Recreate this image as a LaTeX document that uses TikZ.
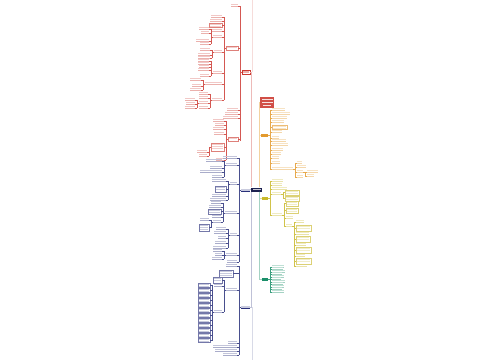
\documentclass[tikz,border=0pt]{standalone}
\definecolor{cR}{HTML}{CC3B33}
\definecolor{cB}{HTML}{29307A}
\definecolor{cO}{HTML}{E39A2D}
\definecolor{cY}{HTML}{C9B92A}
\definecolor{cG}{HTML}{1B8F6A}
\definecolor{cN}{HTML}{1C2150}
\tikzset{
 leafbar/.style={rectangle, inner sep=0pt, outer sep=0pt, minimum height=1.4pt, fill=#1!28, draw=none},
 trunk/.style={draw=#1!85, line width=.28pt},
 uline/.style={draw=#1!40, line width=.25pt},
 boxst/.style={rectangle, inner sep=0pt, outer sep=0pt, draw=#1!65, line width=.28pt, fill=white},
 mainlink/.style={draw=#1, line width=.7pt},
}
% left group: colour, trunk x, y top, y bottom, parent y, list x1/x2/y
\newcommand\Lgrp[6]{%
  \draw[trunk=#1] (#2,#3) -- (#2,#4);
  \draw[trunk=#1] (#2,#5) -- ({#2+2},#5);
  \foreach \a/\b/\c in {#6}{%
    \node[leafbar=#1, minimum width={(\b-\a)*1pt}] (n#1x\a y\c) at ({(\a+\b)/2},{\c-1.3}) {};
    \draw[uline=#1] (\a,\c) -- (\b,\c);
    \draw[trunk=#1] (#2,\c) -- (\b,\c);
  }}
\newcommand\Rgrp[6]{%
  \draw[trunk=#1] (#2,#3) -- (#2,#4);
  \draw[trunk=#1] ({#2-2},#5) -- (#2,#5);
  \foreach \a/\b/\c in {#6}{%
    \node[leafbar=#1, minimum width={(\b-\a)*1pt}] (n#1x\a y\c) at ({(\a+\b)/2},{\c-1.3}) {};
    \draw[uline=#1] (\a,\c) -- (\b,\c);
    \draw[trunk=#1] (#2,\c) -- (\a,\c);
  }}
% boxes: colour, trunk x, x1, x2, y1, y2
\newcommand\Lbox[6]{%
  \node[boxst=#1, minimum width={(#4-#3)*1pt}, minimum height={(#6-#5)*1pt}] (b#1x#3y#5) at ({(#3+#4)/2},{(#5+#6)/2}) {};
  \draw[trunk=#1] (#2,{(#5+#6)/2}) -- (b#1x#3y#5.east);
  \pgfmathtruncatemacro\nr{(#6-#5-0.6)/1.9}%
  \foreach \k in {1,...,\nr}{\fill[#1!25] ({#3+1},{#5+0.8+(\k-1)*1.9}) rectangle ({#4-1},{#5+2+(\k-1)*1.9});}%
}
\newcommand\Rbox[6]{%
  \node[boxst=#1, minimum width={(#4-#3)*1pt}, minimum height={(#6-#5)*1pt}] (b#1x#3y#5) at ({(#3+#4)/2},{(#5+#6)/2}) {};
  \draw[trunk=#1] (#2,{(#5+#6)/2}) -- (b#1x#3y#5.west);
  \pgfmathtruncatemacro\nr{(#6-#5-0.6)/1.9}%
  \foreach \k in {1,...,\nr}{\fill[#1!25] ({#3+1},{#5+0.8+(\k-1)*1.9}) rectangle ({#4-1},{#5+2+(\k-1)*1.9});}%
}
\begin{document}
\begin{tikzpicture}[x=1pt,y=-1pt]
\useasboundingbox (0,0) rectangle (500,360);
\fill[white] (0,0) rectangle (500,360);

% faint guide lines
\draw[cR!18, line width=.5pt] (252,0) -- (252,72);
\draw[cB!18, line width=.5pt] (252,307) -- (252,360);

% central topic
\node[rectangle, inner sep=0pt, minimum width=11pt, minimum height=4pt, fill=cN] (center) at (256.5,189.5) {};
\fill[cN!25] (252.5,188.9) rectangle (260.5,190.2);

% first level nodes
\node[rectangle, inner sep=0pt, draw=cR, line width=.4pt, fill=white, minimum width=8pt, minimum height=3.6pt] (rL1) at (246,72) {};
\fill[cR!40] (243,71.3) rectangle (249,72.7);
\node[rectangle, inner sep=0pt, fill=cB!25, minimum width=9pt, minimum height=2.6pt] (bL1) at (245.5,189.9) {};
\draw[cB, line width=.7pt] (241,191.4) -- (250,191.4);
\node[rectangle, inner sep=0pt, fill=cB!25, minimum width=9pt, minimum height=2.6pt] (bL2) at (245.5,306.9) {};
\draw[cB, line width=.7pt] (241,308.4) -- (250,308.4);
\node[rectangle, inner sep=0pt, fill=cO, minimum width=7pt, minimum height=3pt] (oL1) at (264.5,135) {};
\node[rectangle, inner sep=0pt, fill=cY, minimum width=6pt, minimum height=3pt] (yL1) at (265,198) {};
\node[rectangle, inner sep=0pt, fill=cG, minimum width=6pt, minimum height=3pt] (gL1) at (265,279) {};
\node[rectangle, inner sep=0pt, fill=cR!90, minimum width=14pt, minimum height=11pt] (title) at (267,102.5) {};
\fill[white!85!cR] (261.5,98.8) rectangle (272.5,100.3);
\fill[white!85!cR] (261.5,101.8) rectangle (272.5,103.3);
\fill[white!85!cR] (263,104.8) rectangle (271,106.3);

% links from the central topic
\draw[mainlink=cR!35] ([xshift=1pt]center.north west) |- (rL1.east);
\draw[mainlink=cB!30] ([xshift=1pt]center.south west) |- (bL2.east);
\draw[trunk=cB] (center.west) -- (bL1.east);
\draw[mainlink=cO!45] ([xshift=-3pt]center.north east) |- (oL1.west);
\draw[mainlink=cO!45] ([xshift=-3pt]center.north east) |- (title.west);
\draw[mainlink=cY!50] ([xshift=-3pt]center.south east) |- (yL1.west);
\draw[mainlink=cG!40] ([xshift=-3pt]center.south east) |- (gL1.west);

% ---------------- red branch ----------------
\Lgrp{cR}{240}{6}{141}{72}{231/238/6, 227/238/110, 225/238/114, 223/238/118}
\Lbox{cR}{240}{226}{238}{46}{50}
\Lbox{cR}{240}{228}{238}{137}{141}
\Lgrp{cR}{224}{17}{100}{48}{211/222/17, 210/222/21, 211/222/31, 213/222/37, 214/222/52, 213/222/73, 205/222/84, 212/222/100}
\Lbox{cR}{224}{209}{222}{23}{27.5}
\Lgrp{cR}{211}{29}{44}{37}{199/209/29, 201/209/33, 196/209/41, 200/209/44}
\Lgrp{cR}{212}{50}{58}{52}{200/210/50, 198/210/55, 198/210/58}
\Lgrp{cR}{211}{61}{76}{73}{198/209/61, 198/209/64, 199/209/67, 198/209/70, 200/209/76}
\Lgrp{cR}{203}{80}{90}{84}{190/201/80, 192/201/86, 190/201/90}
\Lgrp{cR}{210}{94}{108}{100}{199/208/94, 199/208/98, 199/208/103, 199/208/108}
\Lgrp{cR}{197}{100}{108}{103}{185/195/100, 186/195/104, 185/195/108}
\Lgrp{cR}{226}{121}{160}{139}{213/224/121, 215/224/125, 213/224/129, 214/224/134, 216/224/160}
\Lbox{cR}{226}{211}{224}{143}{151}
\Lgrp{cR}{209}{147}{156}{147}{197/207/152, 199/207/156}

% ---------------- blue branch ----------------
\Lgrp{cB}{239}{158}{262}{190}{223/237/158, 226/237/165, 230/237/184, 225/237/213, 230/237/235, 226/237/255, 227/237/262}
\Lgrp{cB}{224}{161}{177}{165}{206/222/161, 210/222/168, 200/222/172, 212/222/177}
\Lgrp{cB}{228}{181}{200}{184}{212/226/181, 212/226/196, 210/226/200}
\Lbox{cB}{228}{215}{226}{186}{192}
\Lgrp{cB}{223}{203}{222}{213}{211/221/203, 209/221/207, 212/221/217, 213/221/222}
\Lbox{cB}{223}{208}{221}{209}{214}
\Lgrp{cB}{211}{220}{228}{222}{200/209/220}
\Lbox{cB}{211}{199}{209}{224}{231}
\Lgrp{cB}{228}{229}{248}{235}{216/226/229, 214/226/233, 218/226/238, 215/226/243, 213/226/248}
\Lgrp{cB}{224}{251}{259}{255}{213/222/251, 215/222/255, 212/222/259}

% ---------------- lower blue branch ----------------
\Lgrp{cB}{239}{266}{355}{307}{226/237/266, 226/237/290, 228/237/343, 213/237/347, 215/237/351, 223/237/355}
\Lbox{cB}{239}{219}{233}{270}{277}
\Lgrp{cB}{224}{280}{312}{290}{214/222/286, 214/222/312}
\Lbox{cB}{224}{213}{222}{277}{283}
\draw[trunk=cB] (212,285) -- (212,341);
\draw[trunk=cB] (212,312) -- (214,312);
\foreach \y in {283,288,...,338}{\Lbox{cB}{212}{198}{210}{\y}{\y+4.5}}

% ---------------- orange branch ----------------
\Rgrp{cO}{270}{110}{169}{135}{272/285/110, 272/290/114, 272/287/118, 272/284/122, 272/282/132, 272/279/138, 272/286/141, 272/288/145, 272/283/150, 272/281/154, 272/279/158, 272/280/163, 272/293/169}
\Rbox{cO}{270}{272}{287}{125}{129.5}
\Rgrp{cO}{295}{163}{177}{169}{297/302/163, 297/306/167, 297/303/172, 297/303/177}
\Rgrp{cO}{305}{172}{176}{172}{307/318/172, 307/314/176}

% ---------------- olive branch ----------------
\Rgrp{cY}{270}{181}{215}{198}{272/283/181, 272/282/185, 272/287/189, 272/281/194, 272/282/215}
\draw[trunk=cY] (283,192) -- (283,199);
\draw[trunk=cY] (281,194) -- (283,194);
\Rbox{cY}{283}{285}{299}{190}{195}
\Rbox{cY}{283}{285}{299}{196}{201}
\Rgrp{cY}{284}{203}{226}{215}{286/293/218, 286/292/226}
\Rbox{cY}{284}{286}{298}{201}{206}
\Rbox{cY}{284}{286}{298}{208}{213}
\Rgrp{cY}{294}{222}{266}{226}{296/304/222, 296/309/234, 296/306/245, 296/305/256, 296/307/266}
\Rbox{cY}{294}{296}{311}{225}{231}
\Rbox{cY}{294}{296}{310}{236}{242}
\Rbox{cY}{294}{296}{311}{247}{253}
\Rbox{cY}{294}{296}{311}{258}{264}

% ---------------- green branch ----------------
\Rgrp{cG}{270}{267}{292}{279}{272/284/267, 272/283/269, 272/285/272, 272/282/274, 272/284/277, 272/281/279, 272/285/282, 272/283/284, 272/284/287, 272/282/289, 272/284/292}
\end{tikzpicture}
\end{document}
